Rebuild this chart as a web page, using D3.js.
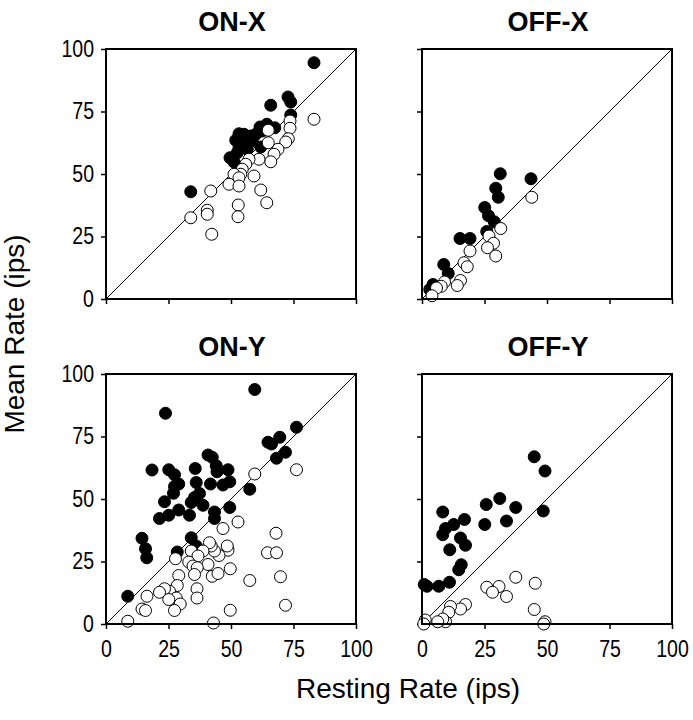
<!DOCTYPE html>
<html><head><meta charset="utf-8">
<script src="https://cdn.jsdelivr.net/npm/d3@7"></script>
<style>body{margin:0;background:#fff;} svg{display:block;}</style>
</head><body>
<svg id="chart" width="693" height="720"></svg>
<script>
// ---------- data ----------
const panelTitles = ["ON-X", "OFF-X", "ON-Y", "OFF-Y"];
const tickValues = [0, 25, 50, 75, 100];
const xAxisTitle = "Resting Rate (ips)";
const yAxisTitle = "Mean Rate (ips)";

const onX_filled = [[83.2,94.5],[72.8,80.8],[73.9,78.8],[65.9,77.5],[73.9,73.6],[67.5,68.5],[64.3,69.9],[61.6,68.8],[62.5,67.2],[59.9,65.9],[57.9,65.2],[53.2,66.1],[55.2,65.9],[51.9,63.5],[54.5,63.2],[55.9,61.9],[53.2,60.5],[56.5,59.9],[52.5,58.5],[61.9,60.8],[49.6,56.5],[51.2,54.8],[58.5,63.2],[33.9,42.9]];
const onX_open = [[83.2,71.9],[73.6,71.2],[73.6,68.3],[72.9,64.1],[71.9,62.8],[68.8,59.9],[67.2,57.9],[65.9,54.9],[64.9,62.5],[64.9,67.5],[61.2,55.9],[57.2,55.9],[55.9,53.9],[54.5,51.9],[53.9,49.9],[51.2,49.9],[53.2,48.5],[49.2,45.9],[53.2,45.2],[59.2,49.2],[61.9,43.6],[64.3,38.5],[41.9,43.2],[40.5,35.5],[40.5,33.9],[33.9,32.5],[52.9,37.6],[52.8,32.9],[42.3,25.9]];

const offX_filled = [[31.3,50.1],[43.6,48.1],[29.5,44.3],[30.5,40.7],[25.1,36.6],[26.6,33.3],[28.9,30.9],[25.9,27.0],[15.2,24.2],[19.2,24.2],[8.7,13.8],[10.5,10.2],[4.4,5.8],[3.1,3.8]];
const offX_open = [[43.9,40.7],[31.5,28.2],[26.8,25.2],[28.6,22.3],[26.2,20.5],[29.5,17.2],[19.2,19.2],[16.8,14.5],[18.1,12.9],[15.4,7.4],[14.1,5.4],[9.0,6.8],[7.7,5.1],[5.8,4.4],[4.0,1.3]];

const onY_filled = [[59.5,93.8],[23.8,84.3],[76.2,78.7],[69.5,74.7],[64.8,72.7],[66.2,72.0],[71.8,68.7],[68.2,66.3],[40.8,67.6],[42.5,66.7],[44.1,63.3],[44.4,60.9],[48.8,61.7],[49.5,56.9],[46.8,55.6],[41.8,56.0],[35.7,62.2],[18.4,61.6],[25.1,61.7],[27.4,59.7],[29.1,56.0],[27.4,55.0],[36.1,56.6],[27.0,52.3],[37.4,52.2],[35.4,50.6],[23.4,48.9],[38.8,47.5],[34.1,48.6],[49.5,46.6],[57.5,53.9],[43.4,44.8],[43.4,42.2],[29.1,45.6],[25.1,43.5],[21.4,42.2],[33.4,43.5],[14.4,34.3],[15.8,30.1],[16.3,26.5],[34.1,34.5],[36.1,31.2],[28.5,28.8],[8.7,11.1]];
const onY_open = [[76.2,61.7],[59.5,60.0],[52.8,40.8],[46.8,38.2],[68.0,36.3],[64.6,28.5],[68.2,28.5],[69.8,18.9],[71.8,7.5],[57.5,17.4],[49.7,22.1],[49.7,5.5],[43.0,0.4],[48.8,29.5],[48.5,31.2],[45.2,27.4],[43.4,29.2],[42.1,31.2],[41.4,32.5],[38.8,29.2],[40.8,23.8],[42.5,19.1],[44.8,20.2],[34.1,29.2],[36.8,27.2],[33.1,24.8],[34.8,23.2],[36.5,22.5],[35.4,19.8],[27.8,26.1],[29.1,19.4],[36.4,14.1],[36.4,10.4],[28.5,15.4],[25.4,13.1],[23.4,14.1],[21.4,12.7],[28.1,10.4],[25.1,9.8],[29.7,8.0],[27.4,5.4],[16.4,11.1],[14.4,6.0],[15.8,5.4],[8.7,1.1]];

const offY_filled = [[44.9,66.9],[49.2,61.2],[48.5,45.2],[31.1,50.2],[25.7,47.8],[37.5,46.6],[33.8,41.2],[25.1,39.8],[8.3,44.8],[17.0,41.8],[12.7,39.8],[9.4,38.2],[8.3,35.7],[15.4,34.4],[17.4,31.5],[11.1,29.7],[15.7,23.7],[14.7,21.7],[11.0,16.7],[6.7,15.1],[0.9,15.8],[2.0,15.1]];
const offY_open = [[37.5,18.7],[45.3,16.3],[30.8,15.0],[25.9,14.7],[28.2,12.7],[33.8,11.0],[44.9,5.8],[49.2,0.9],[48.7,0.0],[17.4,7.8],[15.4,6.0],[11.4,7.0],[10.7,4.7],[9.4,0.9],[8.3,2.0],[6.3,0.9],[1.3,1.6],[0.7,0.0]];

// ---------- layout ----------
const FONT = "'Liberation Sans', Arial, Helvetica, sans-serif";
const PW = 250, PH = 250;
const colX = [106, 422], rowY = [49, 374];
const TICK_SCALE = 0.85;

const panels = [
  {title: panelTitles[0], filled: onX_filled,  open: onX_open,  col: 0, row: 0},
  {title: panelTitles[1], filled: offX_filled, open: offX_open, col: 1, row: 0},
  {title: panelTitles[2], filled: onY_filled,  open: onY_open,  col: 0, row: 1},
  {title: panelTitles[3], filled: offY_filled, open: offY_open, col: 1, row: 1}
];

const svg = d3.select("#chart");
const x = d3.scaleLinear().domain([0, 100]).range([0, PW]);
const y = d3.scaleLinear().domain([0, 100]).range([PH, 0]);

panels.forEach(p => {
  const g = svg.append("g").attr("transform", `translate(${colX[p.col]},${rowY[p.row]})`);

  // title
  g.append("text")
    .attr("x", PW / 2 + 1).attr("y", -18)
    .attr("text-anchor", "middle")
    .attr("font-family", FONT).attr("font-weight", "bold").attr("font-size", 27)
    .text(p.title);

  // diagonal identity line
  g.append("line")
    .attr("x1", x(0)).attr("y1", y(0)).attr("x2", x(100)).attr("y2", y(100))
    .attr("stroke", "#000").attr("stroke-width", 1);

  // axes
  const showY = p.col === 0, showX = p.row === 1;
  const ax = g.append("g").attr("transform", `translate(0,${PH})`)
    .call(d3.axisBottom(x).tickValues(tickValues).tickSize(5).tickPadding(12)
      .tickFormat(showX ? d3.format("d") : () => ""));
  const ay = g.append("g")
    .call(d3.axisLeft(y).tickValues(tickValues).tickSize(5).tickPadding(7)
      .tickFormat(showY ? d3.format("d") : () => ""));
  [ax, ay].forEach(a => {
    a.select(".domain").remove();
    a.selectAll(".tick line").attr("stroke", "#000").attr("stroke-width", 1.5);
    a.selectAll(".tick text").attr("font-family", FONT).attr("font-size", 23).attr("fill", "#000");
  });
  ax.selectAll(".tick text").attr("transform", `scale(${TICK_SCALE},1)`);
  ay.selectAll(".tick text").each(function() {
    const t = d3.select(this);
    const tx = +t.attr("x");
    t.attr("x", 0).attr("transform", `translate(${tx},0) scale(${TICK_SCALE},1)`);
  });

  // markers: filled first, open on top
  g.append("g").selectAll("circle").data(p.filled).join("circle")
    .attr("cx", d => x(d[0])).attr("cy", d => y(d[1])).attr("r", 6)
    .attr("fill", "#000").attr("stroke", "#000").attr("stroke-width", 1);
  g.append("g").selectAll("circle").data(p.open).join("circle")
    .attr("cx", d => x(d[0])).attr("cy", d => y(d[1])).attr("r", 6)
    .attr("fill", "#fff").attr("stroke", "#000").attr("stroke-width", 1);

  // frame
  g.append("rect").attr("x", 0).attr("y", 0).attr("width", PW).attr("height", PH)
    .attr("fill", "none").attr("stroke", "#000").attr("stroke-width", 2);
});

// axis titles
svg.append("text")
  .attr("x", 408).attr("y", 698)
  .attr("text-anchor", "middle")
  .attr("font-family", FONT).attr("font-size", 28)
  .text(xAxisTitle);
svg.append("text")
  .attr("transform", "translate(24,334) rotate(-90)")
  .attr("text-anchor", "middle")
  .attr("font-family", FONT).attr("font-size", 28)
  .text(yAxisTitle);
</script>
</body></html>
